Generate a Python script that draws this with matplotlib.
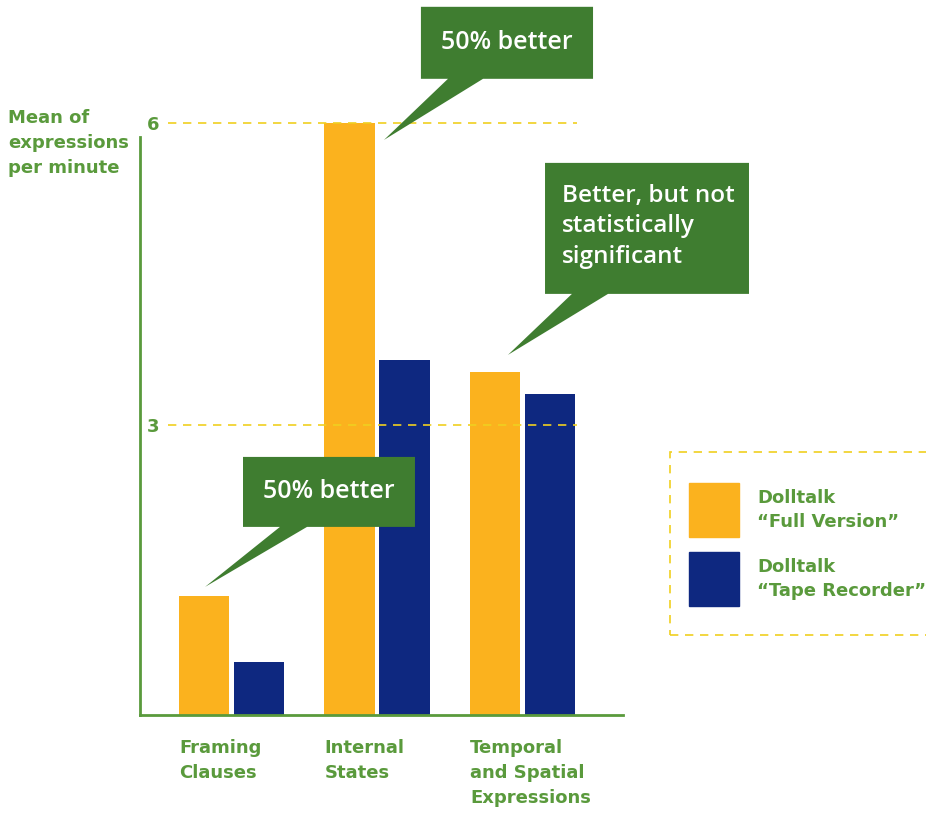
import numpy as np
import matplotlib.pyplot as plt
from matplotlib.patches import Polygon, Rectangle
import matplotlib.transforms as mtransforms

# Data.
categories = ["Framing\nClauses", "Internal\nStates", "Temporal\nand Spatial\nExpressions"]
full_version = [1.30, 6.0, 3.53]
tape_recorder = [0.65, 3.64, 3.31]
series_names = ["Dolltalk\n\u201cFull Version\u201d", "Dolltalk\n\u201cTape Recorder\u201d"]
yticks = [3, 6]
callout_texts = ["50% better", "Better, but not\nstatistically\nsignificant", "50% better"]

ORANGE = '#FBB21E'
NAVY = '#0E2880'
GREEN_TXT = '#5A9A3C'
GREEN_BOX = '#3F7D30'
YELLOW = '#F0D020'

fig = plt.figure(figsize=(9.26, 8.15), dpi=100)
ax = fig.add_axes([140 / 926, 100 / 815, 483 / 926, 710 / 815])

x = np.arange(len(categories))
width = 0.344
off = 0.189
ax.bar(x - off, full_version, width, color=ORANGE, zorder=2)
ax.bar(x + off, tape_recorder, width, color=NAVY, zorder=2)

ax.set_xlim(-0.629, 2.691)
ax.set_ylim(0.119, 7.17)

# Axes styling: green L-shaped axis, labels inside the spine.
for s in ['top', 'right']:
    ax.spines[s].set_visible(False)
for s in ['left', 'bottom']:
    ax.spines[s].set_color(GREEN_TXT)
    ax.spines[s].set_linewidth(2)
ax.spines['left'].set_bounds(0.119, 5.86)
ax.set_xticks([])
ax.set_yticks(yticks)
ax.set_yticklabels([str(t) for t in yticks])
ax.tick_params(axis='y', length=0, pad=-14, labelcolor=GREEN_TXT, labelsize=13)
for lbl in ax.get_yticklabels():
    lbl.set_fontweight('bold')

# Dashed reference lines.
ax.hlines(yticks, -0.436, 2.375, colors=YELLOW, linestyles=(0, (5, 4)),
          linewidth=1.2, zorder=3)

# Category labels, left aligned under the first bar of each group.
trans = mtransforms.blended_transform_factory(ax.transData, ax.transAxes)
for xi, cat in zip(x, categories):
    ax.text(xi - off - width / 2, -0.034, cat, transform=trans, ha='left', va='top',
            fontsize=13, fontweight='bold', color=GREEN_TXT, linespacing=1.5,
            clip_on=False)

# Speech-bubble callouts: (left, right, top, bottom, base_left, base_right, tip)
bubbles = [
    (1.302, 2.485, 7.152, 6.437, 1.488, 1.729, (1.048, 5.83)),
    (2.155, 3.557, 5.602, 4.301, 2.340, 2.588, (1.900, 3.695)),
    (0.079, 1.261, 2.682, 1.987, 0.333, 0.519, (-0.182, 1.391)),
]
for (l, r, t, b, bl, br, tip), txt in zip(bubbles, callout_texts):
    pts = [(l, t), (r, t), (r, b), (br, b), tip, (bl, b), (l, b)]
    ax.add_patch(Polygon(pts, closed=True, facecolor=GREEN_BOX, edgecolor='none',
                         zorder=4, clip_on=False))
    if '\n' in txt:
        ax.text(l + 0.115, (t + b) / 2 + 0.02, txt, ha='left', va='center', color='white',
                fontsize=17.5, family='Open Sans', fontweight='semibold',
                linespacing=1.37, zorder=5, clip_on=False)
    else:
        ax.text((l + r) / 2, (t + b) / 2, txt, ha='center', va='center', color='white',
                fontsize=18, family='Open Sans', fontweight='semibold',
                zorder=5, clip_on=False)

# Y axis title in the top-left corner.
fig.text(8 / 926, (815 - 143) / 815, "Mean of\nexpressions\nper minute",
         ha='left', va='center', fontsize=13, fontweight='bold', color=GREEN_TXT,
         linespacing=1.5)

# Legend box (dashed, runs off the right edge).
fig.add_artist(Rectangle((670 / 926, 180 / 815), 0.35, 183 / 815,
                         transform=fig.transFigure, fill=False, edgecolor=YELLOW,
                         linestyle=(0, (5, 4)), linewidth=1.2))
sw_bottoms = [(815 - 537) / 815, (815 - 606) / 815]
for color, name, yb in zip([ORANGE, NAVY], series_names, sw_bottoms):
    fig.add_artist(Rectangle((689 / 926, yb), 50 / 926, 54 / 815,
                             transform=fig.transFigure, color=color))
    fig.text(757 / 926, yb + 27 / 815, name, ha='left', va='center', fontsize=13,
             fontweight='bold', color=GREEN_TXT, linespacing=1.45)

fig.savefig('out.png', dpi=100)
